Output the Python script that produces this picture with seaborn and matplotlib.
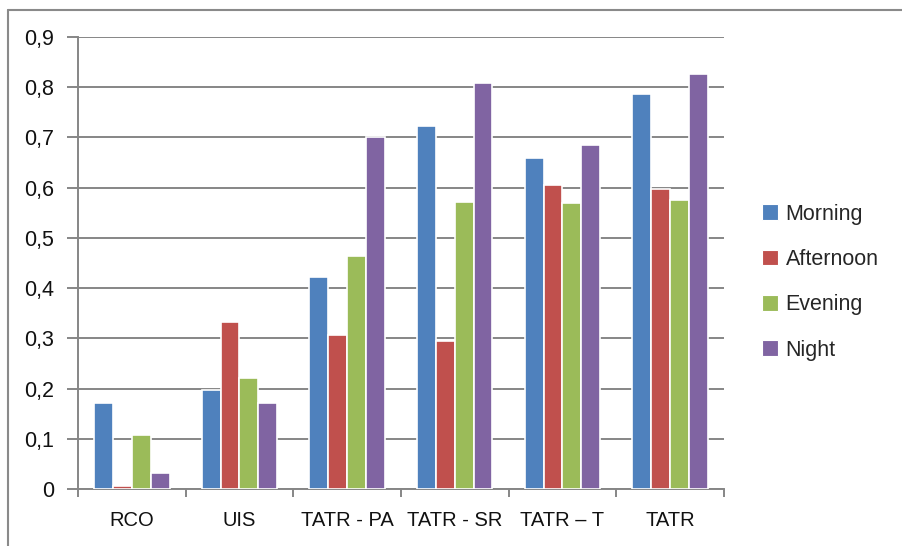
import matplotlib
matplotlib.use("Agg")
import matplotlib.pyplot as plt
from matplotlib.lines import Line2D
from matplotlib.patches import Patch
from matplotlib.ticker import FixedLocator, FuncFormatter
import pandas as pd
import seaborn as sns

# Scores per method and time of day
methods = ["RCO", "UIS", "TATR - PA", "TATR - SR", "TATR \u2013 T", "TATR"]
periods = ["Morning", "Afternoon", "Evening", "Night"]
morning = [0.171, 0.197, 0.422, 0.723, 0.659, 0.786]
afternoon = [0.006, 0.333, 0.307, 0.295, 0.606, 0.598]
evening = [0.107, 0.221, 0.464, 0.572, 0.569, 0.576]
night = [0.032, 0.171, 0.700, 0.809, 0.685, 0.827]
y_ticks = [0.0, 0.1, 0.2, 0.3, 0.4, 0.5, 0.6, 0.7, 0.8, 0.9]

palette = ["#4F81BD", "#C0504D", "#9BBB59", "#8064A2"]
grid_col = "#868686"

series = {"Morning": morning, "Afternoon": afternoon,
          "Evening": evening, "Night": night}
df = pd.DataFrame(
    [(m, p, v) for p in periods for m, v in zip(methods, series[p])],
    columns=["method", "period", "value"],
)

sns.set_theme(style="white")
plt.rcParams["font.family"] = ["Liberation Sans", "DejaVu Sans"]

fig = plt.figure(figsize=(9.02, 5.46), dpi=100)
ax = fig.add_axes([0.0865, 0.1044, 0.716, 0.8278])

sns.barplot(data=df, x="method", y="value", hue="period", order=methods,
            hue_order=periods, palette=palette, width=0.7, ax=ax,
            edgecolor="white", linewidth=1.2, saturation=1.0,
            errorbar=None, legend=False, zorder=3)

ax.set_ylim(0, 0.9)
ax.set_xlim(-0.5, len(methods) - 0.5)
ax.yaxis.set_major_locator(FixedLocator(y_ticks))
ax.yaxis.set_major_formatter(
    FuncFormatter(lambda v, _: "0" if abs(v) < 1e-9 else f"{v:.1f}".replace(".", ",")))
ax.grid(axis="y", color=grid_col, linewidth=1.4, zorder=0)
ax.set_axisbelow(True)

for side in ["top", "right"]:
    ax.spines[side].set_visible(False)
for side in ["left", "bottom"]:
    ax.spines[side].set_color(grid_col)
    ax.spines[side].set_linewidth(1.4)

ax.set_xlabel("")
ax.set_ylabel("")
ax.tick_params(axis="y", which="major", direction="out", length=8, width=1.4,
               color=grid_col, pad=9, labelsize=15.5, labelcolor="#111111",
               left=True)
ax.tick_params(axis="x", which="major", length=0, pad=16, labelsize=14.5,
               labelcolor="#111111")
ax.set_xticks([i - 0.5 for i in range(len(methods) + 1)], minor=True)
ax.tick_params(axis="x", which="minor", direction="out", length=6, width=1.4,
               color=grid_col, bottom=True)

handles = [Patch(facecolor=c, edgecolor="white", linewidth=0.8) for c in palette]
fig.legend(handles, periods, loc="center left", bbox_to_anchor=(0.835, 0.483),
           frameon=False, fontsize=15.5, handlelength=0.75, handleheight=0.75,
           handletextpad=0.35, labelspacing=1.13, borderaxespad=0)

# Outer chart frame (top and left edges)
fig.add_artist(Line2D([0.009, 1.0], [0.982, 0.982], transform=fig.transFigure,
                      color="#8A8A8A", linewidth=1.5))
fig.add_artist(Line2D([0.009, 0.009], [0.0, 0.982], transform=fig.transFigure,
                      color="#8A8A8A", linewidth=1.5))

fig.savefig("out.png", dpi=100, facecolor="white")
